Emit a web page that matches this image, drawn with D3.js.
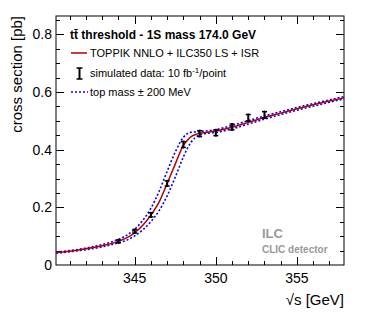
<!DOCTYPE html>
<html>
<head>
<meta charset="utf-8">
<script src="https://cdn.jsdelivr.net/npm/d3@7"></script>
<style>
  body { margin: 0; background: #fff; }
  svg text { font-family: "Liberation Sans", Arial, sans-serif; }
</style>
</head>
<body>
<svg id="chart" width="374" height="316"></svg>
<script>
// sqrt(s) grid for the theory curves [GeV]
const sqrtS = [340.15, 341, 342, 343, 344, 344.5, 345, 345.5, 346, 346.5, 347, 347.5, 348,
  348.25, 348.5, 348.75, 349, 349.5, 350, 351, 352, 353, 354, 355, 356, 357, 357.9];

// TOPPIK NNLO + ILC350 LS + ISR, 1S mass 174.0 GeV
const xsecNominal = [0.043, 0.048, 0.056, 0.067, 0.082, 0.094, 0.112, 0.138, 0.173, 0.218, 0.283, 0.350, 0.415,
  0.433, 0.446, 0.453, 0.457, 0.461, 0.465, 0.478, 0.495, 0.512, 0.527, 0.542, 0.556, 0.569, 0.580];
// top mass - 200 MeV
const xsecMassDown = [0.045, 0.050, 0.059, 0.071, 0.089, 0.103, 0.124, 0.155, 0.197, 0.255, 0.325, 0.392, 0.443,
  0.456, 0.461, 0.462, 0.463, 0.466, 0.470, 0.484, 0.501, 0.517, 0.532, 0.547, 0.560, 0.573, 0.584];
// top mass + 200 MeV
const xsecMassUp = [0.041, 0.046, 0.053, 0.063, 0.077, 0.086, 0.101, 0.122, 0.151, 0.188, 0.240, 0.305, 0.375,
  0.405, 0.428, 0.443, 0.451, 0.457, 0.460, 0.472, 0.489, 0.506, 0.522, 0.537, 0.551, 0.565, 0.576];

// simulated data, 10 fb-1 / point
const dataS   = [344, 345, 346, 347, 348, 349, 350, 351, 352, 353];
const dataVal = [0.082, 0.117, 0.174, 0.283, 0.418, 0.456, 0.459, 0.479, 0.511, 0.521];
const dataErr = [0.005, 0.006, 0.007, 0.009, 0.010, 0.010, 0.010, 0.010, 0.011, 0.011];

const xTicks = [345, 350, 355];
const yTicks = [0, 0.2, 0.4, 0.6, 0.8];

const svg = d3.select("#chart");
const frame = {left: 56, right: 344, top: 16, bottom: 265};

const x = d3.scaleLinear().domain([340.15, 357.9]).range([frame.left, frame.right]);
const y = d3.scaleLinear().domain([0, 0.864]).range([frame.bottom, frame.top]);

// frame box
svg.append("rect")
  .attr("x", frame.left).attr("y", frame.top)
  .attr("width", frame.right - frame.left).attr("height", frame.bottom - frame.top)
  .attr("fill", "none").attr("stroke", "#000").attr("stroke-width", 1);

// ROOT style ticks on all four sides, pointing inward
const xMinor = d3.range(341, 358, 1);
const yMinor = d3.range(0.05, 0.86, 0.05);
const tickG = svg.append("g").attr("stroke", "#000").attr("stroke-width", 1);
for (const v of xMinor) {
  const len = (v % 5 === 0) ? 8 : 4;
  const px = Math.round(x(v)) + 0.5;
  tickG.append("line").attr("x1", px).attr("x2", px).attr("y1", frame.bottom).attr("y2", frame.bottom - len);
  tickG.append("line").attr("x1", px).attr("x2", px).attr("y1", frame.top).attr("y2", frame.top + len);
}
for (const v of yMinor) {
  const major = Math.abs(v * 5 - Math.round(v * 5)) < 1e-6;
  const len = major ? 8 : 4;
  const py = Math.round(y(v)) + 0.5;
  tickG.append("line").attr("x1", frame.left).attr("x2", frame.left + len).attr("y1", py).attr("y2", py);
  tickG.append("line").attr("x1", frame.right).attr("x2", frame.right - len).attr("y1", py).attr("y2", py);
}

// tick labels
svg.append("g").selectAll("text")
  .data(xTicks).join("text")
  .attr("x", d => x(d)).attr("y", frame.bottom + 18)
  .attr("text-anchor", "middle")
  .style("font-size", "14px")
  .text(d => d);

svg.append("g").selectAll("text")
  .data(yTicks).join("text")
  .attr("x", frame.left - 4).attr("y", d => y(d) + 5)
  .attr("text-anchor", "end")
  .style("font-size", "14px")
  .text(d => d === 0 ? "0" : d.toFixed(1));

// axis titles
svg.append("text")
  .attr("x", frame.right).attr("y", 305)
  .attr("text-anchor", "end")
  .style("font-size", "15px")
  .text("\u221As [GeV]");

svg.append("text")
  .attr("transform", `translate(22,${frame.top}) rotate(-90)`)
  .attr("text-anchor", "end")
  .style("font-size", "15px")
  .text("cross section [pb]");

// curves
const curvePts = vals => sqrtS.map((s, i) => [s, vals[i]]);
const line = d3.line()
  .x(d => x(d[0])).y(d => y(d[1]))
  .curve(d3.curveMonotoneX);

const plot = svg.append("g");

plot.append("path")
  .datum(curvePts(xsecMassDown))
  .attr("d", line)
  .attr("fill", "none").attr("stroke", "#0000ff").attr("stroke-width", 1.6)
  .attr("stroke-dasharray", "2,2");

plot.append("path")
  .datum(curvePts(xsecMassUp))
  .attr("d", line)
  .attr("fill", "none").attr("stroke", "#0000ff").attr("stroke-width", 1.6)
  .attr("stroke-dasharray", "2,2");

plot.append("path")
  .datum(curvePts(xsecNominal))
  .attr("d", line)
  .attr("fill", "none").attr("stroke", "#b00000").attr("stroke-width", 1.5);

// data points with error bars
const pts = plot.append("g").attr("stroke", "#000").attr("stroke-width", 2)
  .selectAll("g")
  .data(dataS.map((s, i) => ({s, v: dataVal[i], e: dataErr[i]})))
  .join("g");

pts.append("line")
  .attr("x1", d => x(d.s)).attr("x2", d => x(d.s))
  .attr("y1", d => y(d.v - d.e) + 1).attr("y2", d => y(d.v + d.e) - 1);
pts.append("line")
  .attr("x1", d => x(d.s) - 2.5).attr("x2", d => x(d.s) + 2.5)
  .attr("y1", d => y(d.v - d.e)).attr("y2", d => y(d.v - d.e))
  .attr("stroke-width", 1.5);
pts.append("line")
  .attr("x1", d => x(d.s) - 2.5).attr("x2", d => x(d.s) + 2.5)
  .attr("y1", d => y(d.v + d.e)).attr("y2", d => y(d.v + d.e))
  .attr("stroke-width", 1.5);

// legend
const leg = svg.append("g").style("font-size", "11px");

leg.append("text")
  .attr("x", 70).attr("y", 39)
  .style("font-weight", "bold").style("font-size", "12px")
  .text("tt\u0304 threshold - 1S mass 174.0 GeV");

leg.append("line")
  .attr("x1", 71).attr("x2", 87).attr("y1", 53).attr("y2", 53)
  .attr("stroke", "#b00000").attr("stroke-width", 1.5);
leg.append("text").attr("x", 90).attr("y", 57)
  .text("TOPPIK NNLO + ILC350 LS + ISR");

const ib = leg.append("g").attr("stroke", "#000");
ib.append("line").attr("x1", 79.5).attr("x2", 79.5).attr("y1", 68).attr("y2", 79).attr("stroke-width", 2);
ib.append("line").attr("x1", 76.5).attr("x2", 82.5).attr("y1", 68).attr("y2", 68).attr("stroke-width", 1.5);
ib.append("line").attr("x1", 76.5).attr("x2", 82.5).attr("y1", 79).attr("y2", 79).attr("stroke-width", 1.5);
const simText = leg.append("text").attr("x", 90).attr("y", 77);
simText.append("tspan").text("simulated data: 10 fb");
simText.append("tspan").attr("dy", -4).style("font-size", "8px").text("-1");
simText.append("tspan").attr("dy", 4).text("/point");

leg.append("line")
  .attr("x1", 71).attr("x2", 88).attr("y1", 92).attr("y2", 92)
  .attr("stroke", "#0000ff").attr("stroke-width", 1.6).attr("stroke-dasharray", "2,2");
leg.append("text").attr("x", 90).attr("y", 96)
  .text("top mass \u00B1 200 MeV");

// ILC / CLIC detector label
svg.append("text")
  .attr("x", 262).attr("y", 238)
  .attr("fill", "#999").style("font-weight", "bold").style("font-size", "13px")
  .text("ILC");
svg.append("text")
  .attr("x", 262).attr("y", 253)
  .attr("fill", "#999").style("font-weight", "bold").style("font-size", "10px")
  .text("CLIC detector");
</script>
</body>
</html>
